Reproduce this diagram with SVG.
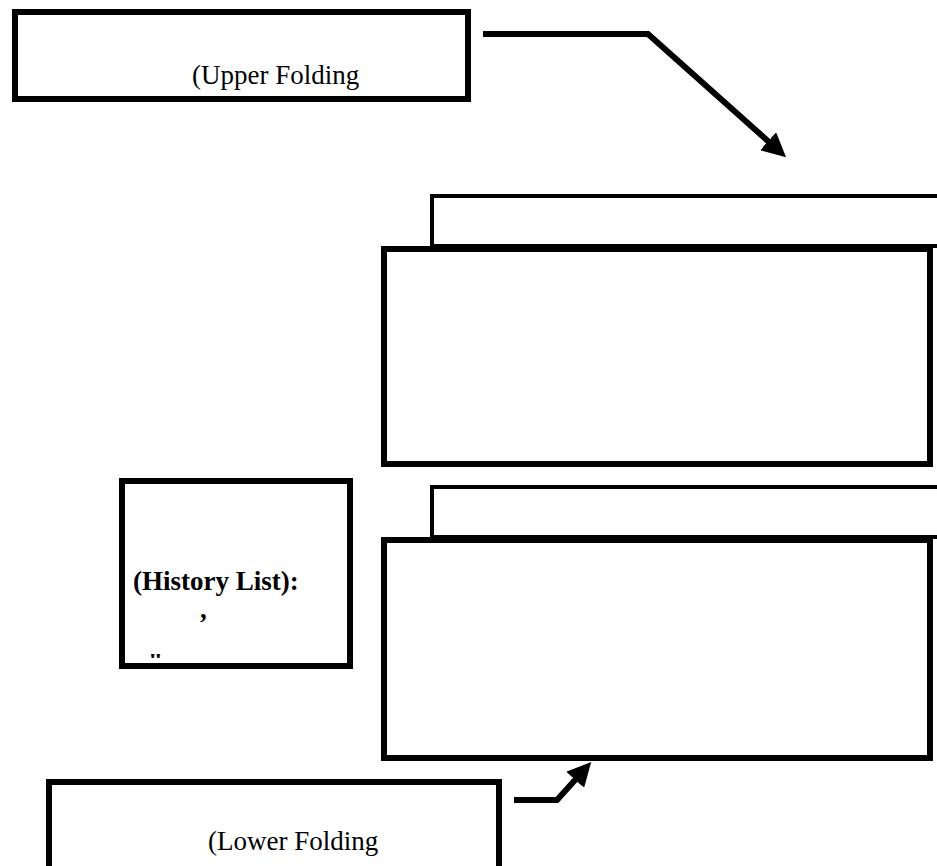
<svg xmlns="http://www.w3.org/2000/svg" width="937" height="866" viewBox="0 0 937 866">
<style>
.box{fill:#fff;stroke:#000;stroke-width:6}
.tab{fill:#fff;stroke:#000;stroke-width:4}
.t{font-family:"Liberation Serif","Times New Roman",serif;font-size:27px;fill:#000}
.b{font-weight:bold}
.c{fill:none;stroke:#000;stroke-width:6;stroke-linejoin:miter}
</style>
<defs>
<marker id="ah" markerWidth="4" markerHeight="4" refX="2.2" refY="2" orient="auto" markerUnits="strokeWidth">
<path d="M0,0 L4,2 L0,4 Z" fill="#000"/>
</marker>
<clipPath id="hc"><rect x="120" y="479" width="232" height="179"/></clipPath>
</defs>
<rect width="937" height="866" fill="#fff"/>
<g id="upper">
<rect class="box" x="15" y="12" width="453" height="87"/>
<text class="t" x="192" y="84">(Upper Folding</text>
</g>
<g id="panel1">
<rect class="tab" x="432" y="196" width="520" height="50"/>
<rect class="box" x="384" y="249" width="546" height="215"/>
</g>
<g id="panel2">
<rect class="tab" x="432" y="487" width="520" height="50"/>
<rect class="box" x="384" y="540" width="546" height="218"/>
</g>
<g id="history">
<rect class="box" x="122" y="481" width="228" height="185"/>
<g clip-path="url(#hc)">
<text class="t b" x="133" y="590">(History List):</text>
<text class="t b" x="200" y="618">,</text>
<text class="t b" x="148" y="672">"</text>
</g>
</g>
<g id="lower">
<rect class="box" x="49" y="782" width="450" height="100"/>
<text class="t" x="208" y="850">(Lower Folding</text>
</g>
<g id="connectors">
<polyline class="c" points="483,34 648,34 778,150" marker-end="url(#ah)"/>
<polyline class="c" points="514,800 557,800 584,770" marker-end="url(#ah)"/>
</g>
</svg>
